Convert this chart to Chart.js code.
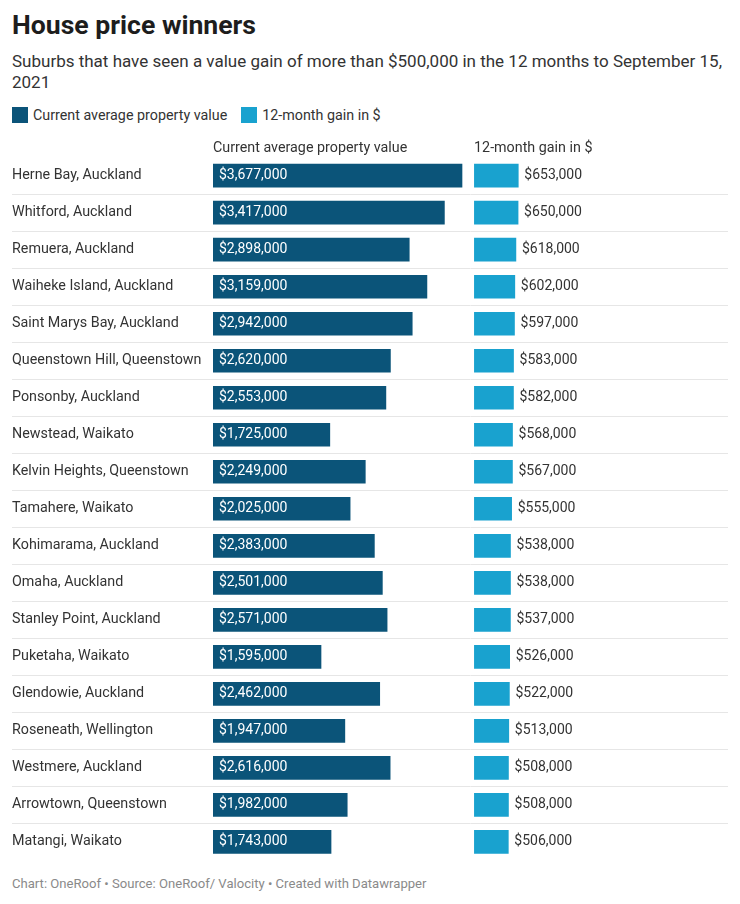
<!DOCTYPE html>
<html>
<head>
<meta charset="utf-8">
<script src="https://cdn.jsdelivr.net/npm/chart.js@4/dist/chart.umd.min.js"></script>
<style>
  body { margin: 0; background: #fff; font-family: Roboto, sans-serif; color: #333; }
  #page { position: relative; width: 740px; height: 904px; }
  #title { position: absolute; left: 12px; top: 9px; font-size: 26.6px; font-weight: 700; color: #1d1d1d; line-height: 32px; }
  #sub { position: absolute; left: 12px; top: 51px; width: 716px; font-size: 17px; line-height: 21px; color: #333; }
  #legend { position: absolute; left: 12px; top: 106px; font-size: 14.3px; line-height: 18px; display: flex; align-items: center; }
  #legend span.box { display: inline-block; width: 16px; height: 16px; margin-right: 5px; }
  #legend span.item { display: flex; align-items: center; margin-right: 14px; }
  #wrap { position: absolute; left: 0; top: 132px; width: 740px; height: 740px; }
  #foot { position: absolute; left: 12px; top: 876px; font-size: 13.1px; color: #8a8a8a; line-height: 16px; }
</style>
</head>
<body>
<div id="page">
  <div id="title">House price winners</div>
  <div id="sub">Suburbs that have seen a value gain of more than $500,000 in the 12 months to September 15, 2021</div>
  <div id="legend"></div>
  <div id="wrap"><canvas id="myChart"></canvas></div>
  <div id="foot">Chart: OneRoof • Source: OneRoof/ Valocity • Created with Datawrapper</div>
</div>
<script>
// Dados

const suburbs = [
    'Herne Bay, Auckland',
    'Whitford, Auckland',
    'Remuera, Auckland',
    'Waiheke Island, Auckland',
    'Saint Marys Bay, Auckland',
    'Queenstown Hill, Queenstown',
    'Ponsonby, Auckland',
    'Newstead, Waikato',
    'Kelvin Heights, Queenstown',
    'Tamahere, Waikato',
    'Kohimarama, Auckland',
    'Omaha, Auckland',
    'Stanley Point, Auckland',
    'Puketaha, Waikato',
    'Glendowie, Auckland',
    'Roseneath, Wellington',
    'Westmere, Auckland',
    'Arrowtown, Queenstown',
    'Matangi, Waikato'
];

const propertyValues = [3677000, 3417000, 2898000, 3159000, 2942000, 2620000, 2553000, 1725000, 2249000, 2025000,
    2383000, 2501000, 2571000, 1595000, 2462000, 1947000, 2616000, 1982000, 1743000];

const gains = [653000, 650000, 618000, 602000, 597000, 583000, 582000, 568000, 567000, 555000,
    538000, 538000, 537000, 526000, 522000, 513000, 508000, 508000, 506000];

const seriesNames = ['Current average property value', '12-month gain in $'];
const seriesColors = ['#0b5479', '#19a2cf'];

// Legenda em HTML
const legend = document.getElementById('legend');
seriesNames.forEach((name, i) => {
    legend.innerHTML += '<span class="item"><span class="box" style="background:' + seriesColors[i] + '"></span>' + name + '</span>';
});

const fmt = (v) => '$' + v.toLocaleString('en-US');

// Rótulos dos valores nas barras
const valueLabels = {
    id: 'valueLabels',
    afterDatasetsDraw(chart) {
        const c = chart.ctx;
        c.save();
        c.font = '14px Roboto';
        c.textBaseline = 'middle';
        c.textAlign = 'left';
        chart.getDatasetMeta(0).data.forEach((bar, i) => {
            c.fillStyle = '#ffffff';
            c.fillText(fmt(chart.data.datasets[0].data[i]), bar.base + 6, bar.y);
        });
        chart.getDatasetMeta(1).data.forEach((bar, i) => {
            c.fillStyle = '#333333';
            c.fillText(fmt(chart.data.datasets[1].data[i]), bar.x + 6, bar.y);
        });
        c.restore();
    }
};

Chart.defaults.font.family = 'Roboto';
Chart.defaults.color = '#333';

const ctx = document.getElementById('myChart').getContext('2d');

const myChart = new Chart(ctx, {
    type: 'bar',
    data: {
        labels: suburbs,
        datasets: [{
            label: seriesNames[0],
            data: propertyValues,
            xAxisID: 'x',
            backgroundColor: seriesColors[0],
            grouped: false,
            barThickness: 23
        }, {
            label: seriesNames[1],
            data: gains,
            xAxisID: 'x2',
            backgroundColor: seriesColors[1],
            grouped: false,
            barThickness: 23
        }]
    },
    options: {
        indexAxis: 'y',
        responsive: true,
        maintainAspectRatio: false,
        animation: false,
        layout: {
            padding: { left: 12, right: 12, top: 0, bottom: 8 }
        },
        plugins: {
            legend: { display: false },
            tooltip: { enabled: false }
        },
        scales: {
            x: {
                position: 'top',
                weight: 1,
                stack: 'cols',
                stackWeight: 3.855,
                min: 0,
                max: 3855000,
                grid: { display: false, drawTicks: false },
                border: { display: false },
                ticks: { display: false },
                title: {
                    display: true,
                    text: seriesNames[0],
                    align: 'start',
                    color: '#333',
                    font: { size: 14.3 },
                    padding: { top: 8, bottom: 0 }
                }
            },
            x2: {
                position: 'top',
                weight: 0,
                stack: 'cols',
                stackWeight: 3.75,
                min: 0,
                max: 3750000,
                grid: { display: false, drawTicks: false },
                border: { display: false },
                ticks: { display: false },
                title: {
                    display: true,
                    text: seriesNames[1],
                    align: 'start',
                    color: '#333',
                    font: { size: 14.3 },
                    padding: { top: 8, bottom: 0 }
                }
            },
            y: {
                border: { display: false },
                grid: {
                    offset: true,
                    tickLength: 201,
                    // linhas só entre as linhas da tabela
                    color: (c) => (c.index > 0 ? '#e6e6e6' : 'rgba(0,0,0,0)')
                },
                ticks: {
                    crossAlign: 'far',
                    color: '#333',
                    font: { size: 14.3 }
                },
                afterFit(scale) {
                    scale.width = 201;
                }
            }
        }
    },
    plugins: [valueLabels]
});
</script>
</body>
</html>
